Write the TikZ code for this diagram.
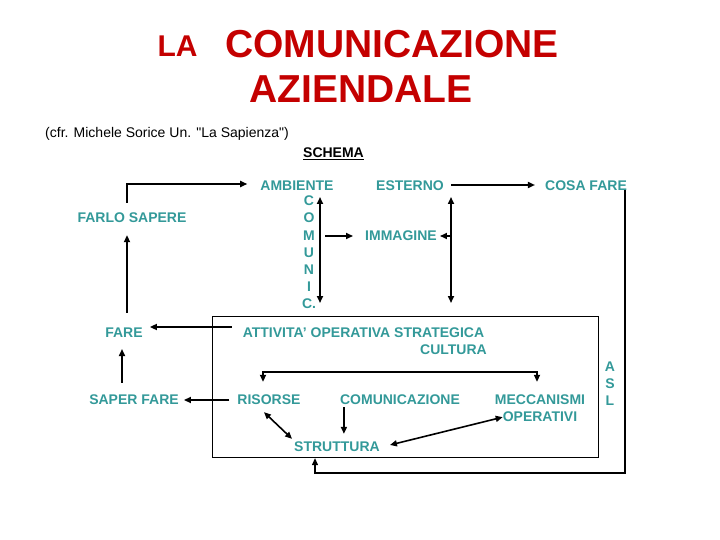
\documentclass[tikz,border=0pt]{standalone}
\usepackage{fontspec}
\setmainfont{Liberation Sans}
\usetikzlibrary{arrows.meta}

\definecolor{tealtext}{RGB}{51,153,153}
\definecolor{titlered}{RGB}{196,0,0}

\tikzset{
  lbl/.style={font=\fontsize{14}{17.2}\selectfont\bfseries, text=tealtext, inner sep=0pt},
  ttl/.style={font=\fontsize{39}{40}\selectfont\bfseries, text=titlered, inner sep=0pt},
  arr/.style={-{Triangle[length=7pt,width=6pt]}, line width=1.6pt},
  dbl/.style={{Triangle[length=7pt,width=6pt]}-{Triangle[length=7pt,width=6pt]}, line width=1.6pt},
}

\begin{document}
\begin{tikzpicture}[x=1pt,y=-1pt]
\useasboundingbox (0,0) rectangle (720,540);

%================ TITLE ==================
\node[ttl, font=\fontsize{30}{32}\selectfont\bfseries, anchor=base] (la) at (177.5,57) {LA};
\node[ttl, anchor=base] (comtitle) at (392,58) {COMUNICAZIONE};
\node[ttl, anchor=base] (azi) at (361,103) {AZIENDALE};

\node[font=\fontsize{14}{16}\selectfont, anchor=base west, inner sep=0pt] (cfr) at (45,138) {(cfr. Michele Sorice Un. \textquotedbl La Sapienza\textquotedbl)};
\node[font=\fontsize{14}{16}\selectfont\bfseries, anchor=base, inner sep=0pt] (schema) at (333.5,158) {\underline{SCHEMA}};

%================ UPPER PART ==================
\node[lbl] (amb) at (297,186) {AMBIENTE};
\node[lbl, align=center] (comunic) at (309,252.5) {C\\O\\M\\U\\N\\I\\C.};
\node[lbl] (est) at (410,186) {ESTERNO};
\node[lbl] (cosa) at (586,186) {COSA FARE};
\node[lbl] (farlo) at (132,218) {FARLO SAPERE};
\node[lbl] (imm) at (401,236) {IMMAGINE};

\coordinate (comA) at (320,197);
\coordinate (comB) at (320,303);
\coordinate (estA) at (451,197);
\coordinate (estB) at (451,303);
\coordinate (mOut) at (325,236);

%================ LOWER PART ==================
\draw[line width=1pt] (212,316) rectangle (598,457);

\node[lbl] (fare) at (124,333) {FARE};
\node[lbl] (att) at (363.5,333) {ATTIVITA’ OPERATIVA STRATEGICA};
\node[lbl, anchor=east] (cult) at (487,350) {CULTURA};
\node[lbl] (saper) at (134,400) {SAPER FARE};
\node[lbl] (ris) at (269,400) {RISORSE};
\node[lbl] (comz) at (400,400) {COMUNICAZIONE};
\node[lbl, align=center, font=\fontsize{14}{17}\selectfont\bfseries] (mecc) at (540,408.5) {MECCANISMI\\OPERATIVI};
\node[lbl, align=center, font=\fontsize{14}{17}\selectfont\bfseries] (asl) at (610,384) {A\\S\\L};
\node[lbl] (strut) at (337,447) {STRUTTURA};

%================ ARROWS ==================
\draw[arr] ([shift={(-5pt,10pt)}]farlo.north) |- ([shift={(-13pt,2pt)}]amb.west);
\draw[arr] ([shift={(3pt,15pt)}]fare.north) -- ([shift={(-5pt,-12pt)}]farlo.south);

\draw[dbl] (comA) -- (comB);
\draw[arr] (mOut) -- ([xshift=-12pt]imm.west);
\draw[dbl] (estA) -- (estB);
\draw[arr] (estA |- imm.east) -- ([xshift=3pt]imm.east);
\draw[arr] ([shift={(7pt,1pt)}]est.east) -- ([shift={(-10pt,1pt)}]cosa.west);

% loop from COSA FARE back to STRUTTURA
\draw[line width=1.2pt, -{Triangle[length=7pt,width=6pt]}] ([shift={(-2pt,-4pt)}]cosa.east) -- ++(0,283) -| ([shift={(-22pt,-6pt)}]strut.south);

\draw[arr] ([shift={(-11pt,6pt)}]att.west) -- ([shift={(7pt,6pt)}]fare.east);
\draw[arr] ([shift={(-12pt,12pt)}]saper.north) -- ([shift={(-2pt,-11pt)}]fare.south);
\draw[arr] ([xshift=-8pt]ris.west) -- ([xshift=5pt]saper.east);

\draw[dbl] ([shift={(-6pt,13pt)}]ris.north) -- ++(0,-10) -| ([shift={(-3pt,13pt)}]mecc.north);
\draw[dbl] ([shift={(-5pt,-7pt)}]ris.south) -- ([shift={(-2pt,3pt)}]strut.north west);
\draw[arr] ([shift={(4pt,-2pt)}]comz.south west) -- ([shift={(4pt,8pt)}]comz.south west |- strut.north);
\draw[dbl] ([shift={(10pt,2pt)}]strut.east) -- ([shift={(8pt,5pt)}]mecc.south west);

\end{tikzpicture}
\end{document}
